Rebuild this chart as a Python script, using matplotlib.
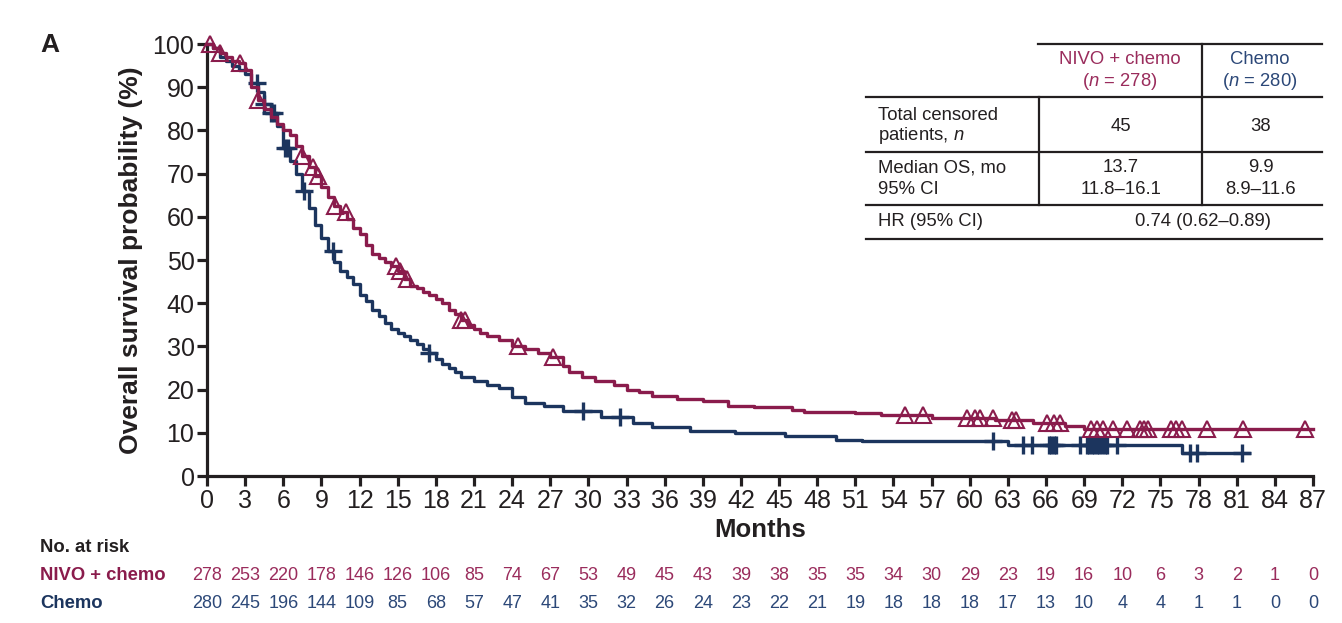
import numpy as np
import matplotlib
matplotlib.use("Agg")
from matplotlib import pyplot as plt
from matplotlib.transforms import blended_transform_factory

plt.rcParams["font.family"] = ["Liberation Sans", "DejaVu Sans"]
plt.rcParams["mathtext.fontset"] = "custom"
plt.rcParams["mathtext.rm"] = "Liberation Sans"
plt.rcParams["mathtext.it"] = "Liberation Sans:italic"

ink = "#231f20"
nivoColor = "#8a1c4c"
chemoColor = "#1c355e"
nivoText = "#9a2c5c"
chemoText = "#2c4878"

# Kaplan-Meier steps (months, % surviving)
nivoT = [0, 0.5, 1, 1.5, 2, 2.5, 3, 3.5, 4, 4.5, 5, 5.5, 6, 6.5, 7, 7.5, 8, 8.5, 9, 9.5,
         10, 10.5, 11, 11.5, 12, 12.5, 13, 13.5, 14, 14.5, 15, 15.5, 16, 16.5, 17, 17.5,
         18, 18.5, 19, 19.5, 20, 20.5, 21, 21.5, 22, 23, 24, 25, 26, 27, 28, 28.5, 29.5,
         30.5, 32, 33, 34, 35, 37, 39, 41, 43, 46, 47, 51, 53, 57, 62, 65, 67.5, 69, 87]
nivoS = [100, 99, 98, 97, 96, 95.5, 94, 90, 87, 85, 83, 81.5, 80, 79, 76.5, 74, 71.5, 69.5, 67, 64.5,
         62.5, 61, 59.5, 57.5, 56, 53.5, 51.5, 50.5, 49.5, 48.5, 47.5, 45.5, 44, 43.5, 42.5, 42,
         41, 40, 38.5, 37.5, 36, 35, 34, 33, 32.5, 31.5, 30, 29.5, 28.5, 27.5, 25.5, 24, 23,
         22, 21, 20, 19.5, 18.5, 17.8, 17.3, 16.3, 16, 15.3, 14.8, 14.5, 14.1, 13.4, 13, 12.3, 11.6, 10.8, 10.8]

chemoT = [0, 0.5, 1, 1.5, 2, 2.5, 3, 3.5, 4, 4.5, 5, 5.5, 6, 6.5, 7, 7.5, 8, 8.5, 9, 9.5,
          10, 10.5, 11, 11.5, 12, 12.5, 13, 13.5, 14, 14.5, 15, 15.5, 16, 16.5, 17, 17.5,
          18, 18.5, 19, 19.5, 20, 21, 22, 23, 24, 25, 26.5, 28, 31, 33.5, 35, 38, 41.5,
          45.5, 49.5, 51.5, 63, 76.7, 82]
chemoS = [100, 99, 97, 96, 95, 94, 93, 91, 89, 86, 84, 81, 76, 73, 70, 66, 62, 58, 55, 52,
          49.5, 47.5, 46, 44.5, 42, 40.5, 38.5, 37, 35.5, 34, 33, 32.5, 31.5, 30.5, 29.5, 28.5,
          27, 26, 25, 24, 23, 22, 21, 20.3, 18.3, 17, 16.2, 15, 13.6, 12.3, 11.3, 10.4, 9.9,
          9.3, 8.3, 8.0, 7.2, 5.3, 5.3]

# censoring times
nivoCens = [0.2, 1.0, 2.6, 4.0, 7.5, 8.3, 8.7, 10.1, 10.9, 14.9, 15.2, 15.7, 20.0, 20.3,
            24.5, 27.2, 54.9, 56.3, 59.8, 60.4, 60.8, 61.8, 63.3, 63.6, 66.1, 66.6, 67.1,
            69.5, 70.0, 70.5, 71.3, 72.4, 73.4, 73.7, 74.0, 75.8, 76.2, 76.7, 78.7, 81.5, 86.4]
chemoCens = [3.9, 4.5, 5.0, 5.3, 6.1, 6.4, 7.6, 9.9, 17.5, 29.6, 32.5, 61.8, 64.2, 64.9,
             66.2, 66.4, 66.6, 66.8, 68.7, 69.2, 69.4, 69.6, 69.8, 70.0, 70.2, 70.4, 70.6,
             70.8, 71.6, 77.3, 77.9, 81.4]

riskMonths = list(range(0, 88, 3))
nivoRisk = [278, 253, 220, 178, 146, 126, 106, 85, 74, 67, 53, 49, 45, 43, 39,
            38, 35, 35, 34, 30, 29, 23, 19, 16, 10, 6, 3, 2, 1, 0]
chemoRisk = [280, 245, 196, 144, 109, 85, 68, 57, 47, 41, 35, 32, 26, 24, 23,
             22, 21, 19, 18, 18, 18, 17, 13, 10, 4, 4, 1, 1, 0, 0]


def survAt(times, t, s):
  idx = np.searchsorted(np.asarray(t), np.asarray(times), side="right") - 1
  return np.asarray(s)[idx]


def fx(px):
  return px / 1342


def fy(py):
  return 1 - py / 623


fig = plt.figure(figsize=(13.42, 6.23), dpi=100)
ax = fig.add_axes([207 / 1342, 147 / 623, 1106 / 1342, 432 / 623])

ax.step(chemoT, chemoS, where="post", color=chemoColor, lw=2.4, clip_on=False, zorder=3)
ax.plot(chemoCens, survAt(chemoCens, chemoT, chemoS), ls="none", marker="+", ms=13,
        mew=2.4, color=chemoColor, clip_on=False, zorder=3)
ax.step(nivoT, nivoS, where="post", color=nivoColor, lw=2.4, clip_on=False, zorder=4)
ax.plot(nivoCens, survAt(nivoCens, nivoT, nivoS), ls="none", marker="^", ms=11, mew=1.5,
        mfc="none", mec=nivoColor, clip_on=False, zorder=4)

ax.set_xlim(0, 87)
ax.set_ylim(0, 100)
ax.set_xticks(riskMonths)
ax.set_yticks(range(0, 101, 10))
for side in ["top", "right"]:
  ax.spines[side].set_visible(False)
for side in ["left", "bottom"]:
  ax.spines[side].set_linewidth(2.3)
  ax.spines[side].set_color(ink)
ax.tick_params(axis="both", length=7, width=2.3, color=ink, labelsize=18, labelcolor=ink, pad=2)
ax.set_xlabel("Months", fontsize=18.5, fontweight="bold", color=ink, labelpad=4)
ax.set_ylabel("Overall survival probability (%)", fontsize=19, fontweight="bold", color=ink, labelpad=7)

fig.text(fx(40), fy(45), "A", fontsize=19, fontweight="bold", color=ink, ha="left", va="center")

# number at risk
tr = blended_transform_factory(ax.transData, fig.transFigure)
fig.text(fx(40), fy(548), "No. at risk", fontsize=13.3, fontweight="bold", color=ink, va="center")
fig.text(fx(40), fy(576), "NIVO + chemo", fontsize=13.3, fontweight="bold", color=nivoColor, va="center")
fig.text(fx(40), fy(604), "Chemo", fontsize=13.3, fontweight="bold", color=chemoColor, va="center")
for m, a, b in zip(riskMonths, nivoRisk, chemoRisk):
  ax.text(m, fy(576), str(a), transform=tr, fontsize=13, color=nivoText, ha="center", va="center")
  ax.text(m, fy(604), str(b), transform=tr, fontsize=13, color=chemoText, ha="center", va="center")

# summary table in the upper right
lineKw = dict(color=ink, lw=1.6, transform=fig.transFigure)
fig.add_artist(plt.Line2D([fx(1038), fx(1322)], [fy(44), fy(44)], **lineKw))
fig.add_artist(plt.Line2D([fx(866), fx(1322)], [fy(97), fy(97)], **lineKw))
fig.add_artist(plt.Line2D([fx(866), fx(1322)], [fy(152), fy(152)], **lineKw))
fig.add_artist(plt.Line2D([fx(866), fx(1322)], [fy(205), fy(205)], **lineKw))
fig.add_artist(plt.Line2D([fx(866), fx(1322)], [fy(239), fy(239)], **lineKw))
fig.add_artist(plt.Line2D([fx(1202), fx(1202)], [fy(44), fy(205)], **lineKw))
fig.add_artist(plt.Line2D([fx(1039), fx(1039)], [fy(97), fy(205)], **lineKw))

fs = 13.3
tk = dict(fontsize=fs, color=ink, va="center")
fig.text(fx(1120), fy(60), "NIVO + chemo", ha="center", fontsize=fs, color=nivoText, va="center")
fig.text(fx(1120), fy(82), r"($\it{n}$ = 278)", ha="center", fontsize=fs, color=nivoText, va="center")
fig.text(fx(1260), fy(60), "Chemo", ha="center", fontsize=fs, color=chemoText, va="center")
fig.text(fx(1260), fy(82), r"($\it{n}$ = 280)", ha="center", fontsize=fs, color=chemoText, va="center")
fig.text(fx(878), fy(115), "Total censored", ha="left", **tk)
fig.text(fx(878), fy(136), r"patients, $\it{n}$", ha="left", **tk)
fig.text(fx(1121), fy(126), "45", ha="center", **tk)
fig.text(fx(1261), fy(126), "38", ha="center", **tk)
fig.text(fx(878), fy(168), "Median OS, mo", ha="left", **tk)
fig.text(fx(878), fy(189), "95% CI", ha="left", **tk)
fig.text(fx(1121), fy(168), "13.7", ha="center", **tk)
fig.text(fx(1121), fy(189), "11.8\u201316.1", ha="center", **tk)
fig.text(fx(1261), fy(168), "9.9", ha="center", **tk)
fig.text(fx(1261), fy(189), "8.9\u201311.6", ha="center", **tk)
fig.text(fx(878), fy(222), "HR (95% CI)", ha="left", **tk)
fig.text(fx(1203), fy(222), "0.74 (0.62\u20130.89)", ha="center", **tk)

fig.savefig("out.png", dpi=100)
